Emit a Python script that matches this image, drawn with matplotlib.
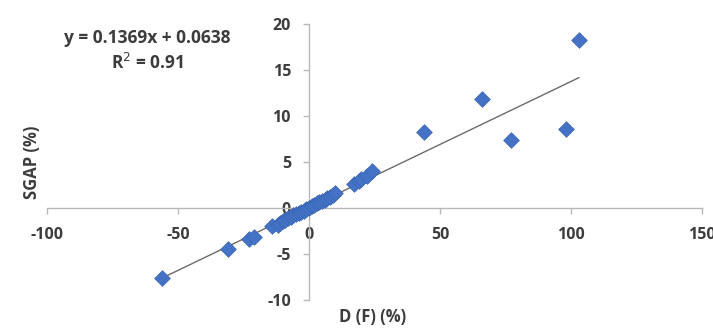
import matplotlib
matplotlib.use("Agg")
import matplotlib.pyplot as plt
import numpy as np

# Data
d_f = [-56, -31, -23, -21, -14, -12, -11, -10, -9, -8, -7, -6, -5, -4, -3, -2, -1, 0,
       1, 2, 3, 4, 5, 6, 7, 8, 9, 10, 17, 19, 20, 22, 24, 44, 66, 77, 98, 103]
sgap = [-7.6, -4.5, -3.4, -3.1, -2.0, -1.8, -1.6, -1.4, -1.3, -1.1, -1.0, -0.8, -0.7, -0.5,
        -0.4, -0.3, -0.1, 0.0, 0.2, 0.3, 0.5, 0.6, 0.8, 0.9, 1.1, 1.2, 1.4, 1.6, 2.6, 2.9,
        3.1, 3.5, 4.0, 8.3, 11.8, 7.4, 8.6, 18.3]
slope = 0.1369
intercept = 0.0638
r2 = 0.91
xticks = [-100, -50, 0, 50, 100, 150]
yticks = [-10, -5, 0, 5, 10, 15, 20]

plt.rcParams['font.family'] = ['Open Sans', 'DejaVu Sans']
plt.rcParams['axes.unicode_minus'] = False
txt_color = '#3c3c3c'

fig = plt.figure(figsize=(7.13, 3.30), dpi=100)
ax = fig.add_axes([47/713, 1-300/330, (702-47)/713, (300-24)/330])

ax.scatter(d_f, sgap, marker='D', s=64, color='#4472C4', edgecolors='#3a65b5',
           linewidths=0.5, zorder=3)
xl = np.array([min(d_f), max(d_f)])
ax.plot(xl, slope*xl + intercept, color='#6e6a66', lw=1.0, zorder=2)

ax.set_xlim(-100, 150)
ax.set_ylim(-10, 20)
ax.set_xticks(xticks)
ax.set_yticks(yticks)
ax.spines['left'].set_position(('data', 0))
ax.spines['bottom'].set_position(('data', 0))
ax.spines['right'].set_visible(False)
ax.spines['top'].set_visible(False)
for s in ['left', 'bottom']:
    ax.spines[s].set_color('#b8b8b8')
    ax.spines[s].set_linewidth(1.0)
ax.tick_params(axis='both', colors='#b8b8b8', length=4, width=1, direction='out',
               labelcolor=txt_color, labelsize=11.5)
ax.tick_params(axis='x', pad=10)
ax.tick_params(axis='y', pad=9)
for lab in ax.get_xticklabels() + ax.get_yticklabels():
    lab.set_fontweight('bold')
ax.set_facecolor('white')

fig.text(373/713, 1-317/330, 'D (F) (%)', ha='center', va='center',
         fontsize=12, fontweight='bold', color=txt_color)
fig.text(32/713, 1-162/330, 'SGAP (%)', ha='center', va='center', rotation=90,
         fontsize=12, fontweight='bold', color=txt_color)
fig.text(147/713, 1-38/330, f'y = {slope}x + {intercept}', ha='center', va='center',
         fontsize=12.5, fontweight='bold', color=txt_color)
fig.text(147/713, 1-63/330, f'R$^2$ = {r2}', ha='center', va='center',
         fontsize=12.5, fontweight='bold', color=txt_color)

fig.savefig('out.png', dpi=100, facecolor='white')
